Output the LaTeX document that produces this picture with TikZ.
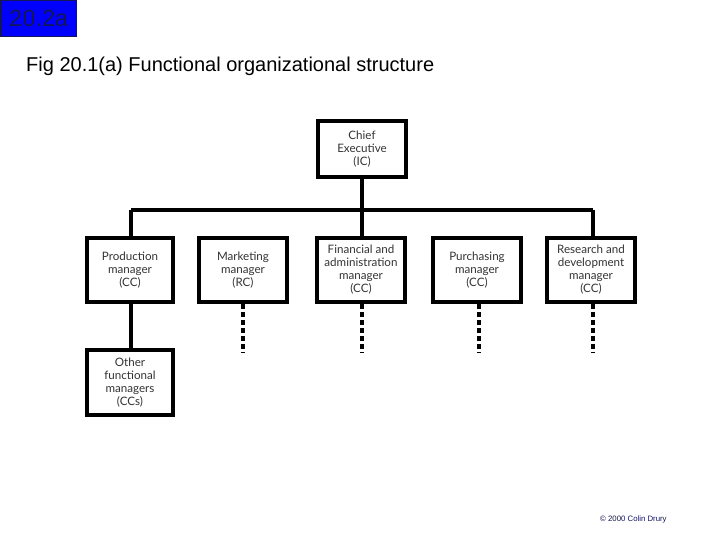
\documentclass[tikz,border=0pt]{standalone}
\usepackage{fontspec}
\setmainfont{Liberation Sans}
\newfontfamily\boxfont{Lato}
\definecolor{labelblue}{RGB}{0,0,255}
\definecolor{navy}{RGB}{20,20,90}
\begin{document}
\begin{tikzpicture}[x=1pt,y=-1pt,
  unit/.style={draw=black,line width=3.5pt,fill=white,inner sep=0pt,
    font=\boxfont\fontsize{11.6}{13}\selectfont,align=center,text=black!80},
  link/.style={line width=3.5pt},
  dotlink/.style={line width=3.5pt,dash pattern=on 5pt off 3pt}]
\useasboundingbox (0,0) rectangle (720,540);
\fill[white] (0,0) rectangle (720,540);
\node[draw=navy,line width=0.8pt,fill=labelblue,minimum width=76pt,minimum height=36pt,inner sep=0pt,
  text=navy,font=\fontsize{23.5}{25}\selectfont,anchor=north west] (lab) at (0,0) {20.2a};
\node[anchor=base west,font=\fontsize{20}{22}\selectfont,inner sep=0pt] (title) at (26,72)
  {Fig 20.1(a) Functional organizational structure};
% boxes
\node[unit,minimum width=88pt,minimum height=56pt] (ce) at (362,149) {Chief\\Executive\\(IC)};
\node[unit,minimum width=86pt,minimum height=64pt] (pm) at (130,270) {Production\\manager\\(CC)};
\node[unit,minimum width=88pt,minimum height=64pt] (mm) at (243,270) {Marketing\\manager\\(RC)};
\node[unit,minimum width=88pt,minimum height=64pt] (fm) at (361,270) {Financial and\\administration\\manager\\(CC)};
\node[unit,minimum width=88pt,minimum height=64pt] (um) at (477,270) {Purchasing\\manager\\(CC)};
\node[unit,minimum width=88pt,minimum height=64pt] (rm) at (591,270) {Research and\\development\\manager\\(CC)};
\node[unit,minimum width=86pt,minimum height=65pt] (om) at (130,382.5) {Other\\functional\\managers\\(CCs)};
% bus
\coordinate (bl) at (131,210);
\coordinate (br) at (593,210);
\draw[link] (bl) -- (br);
\draw[link] (ce.south) -- (fm.north -| ce.south);
\draw[link] (bl) -- (bl |- pm.north);
\draw[link] (br) -- (br |- rm.north);
\draw[link] (pm.south -| bl) -- (om.north -| bl);
% dashed tails
\coordinate (mt) at (243,353);
\coordinate (ft) at (362,353);
\coordinate (ut) at (479,353);
\coordinate (rt) at (593,353);
\draw[dotlink] (mm.south -| mt) -- (mt);
\draw[dotlink] (fm.south -| ft) -- (ft);
\draw[dotlink] (um.south -| ut) -- (ut);
\draw[dotlink] (rm.south -| rt) -- (rt);
\node[anchor=base west,inner sep=0pt,text=navy,font=\fontsize{7.8}{9}\selectfont] (copy) at (600,521) {© 2000 Colin Drury};
\end{tikzpicture}
\end{document}
